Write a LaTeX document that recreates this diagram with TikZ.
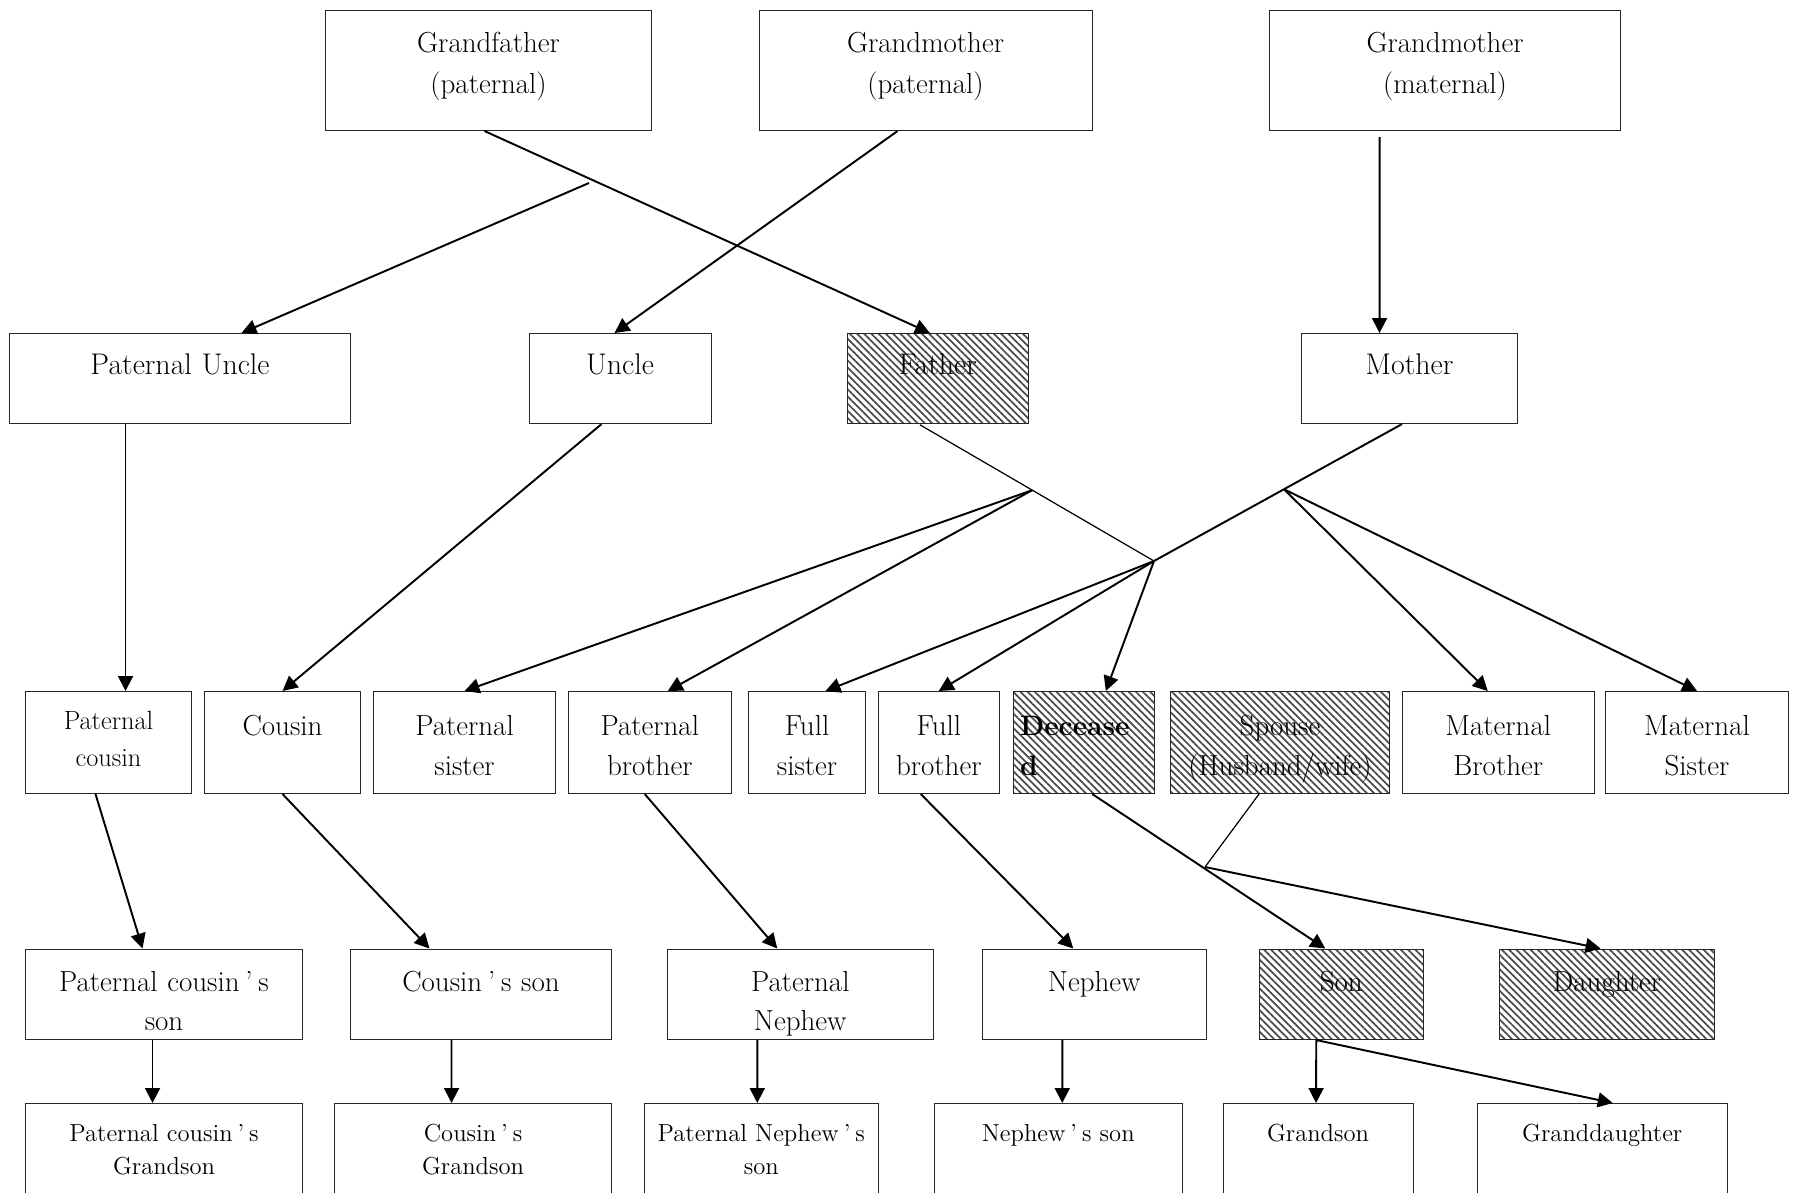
\documentclass[tikz,border=0pt]{standalone}
\usetikzlibrary{arrows.meta,calc,patterns.meta}

\newcommand{\apos}{\kern0.2em’\kern0.2em}

\begin{document}
\begin{tikzpicture}[
  >={Triangle[length=8.5pt,width=8.5pt]},
  kin/.style={draw=black!85, line width=0.6pt, inner sep=0pt, anchor=north west, align=center},
  gone/.style={kin, pattern={Lines[angle=-45,distance=2.9pt,line width=1pt]}, pattern color=black!70},
  gen1/.style={text height=0.83cm, text depth=1.57cm, font=\fontsize{16.5}{23.4}\selectfont},
  gen2/.style={text height=0.82cm, text depth=0.98cm, font=\fontsize{17}{23.4}\selectfont},
  gen3/.style={text height=0.87cm, text depth=1.17cm, font=\fontsize{16.5}{23.2}\selectfont},
  gen4/.style={text height=0.85cm, text depth=0.96cm, font=\fontsize{16.5}{22.2}\selectfont},
  gen5/.style={text height=0.76cm, text depth=1.30cm, font=\fontsize{14}{18.8}\selectfont},
  link/.style={->, line width=1.1pt},
  tie/.style={line width=0.7pt},
]
\useasboundingbox (0,0) rectangle (35.88,-23.84);
\clip (0,0) rectangle (35.88,-23.84);

\node[kin, gen1, text width=6.52cm] (gf) at (6.50,-0.20) {Grandfather\\(paternal)};
\node[kin, gen1, text width=6.66cm] (gmp) at (15.17,-0.20) {Grandmother\\(paternal)};
\node[kin, gen1, text width=7.02cm] (gmm) at (25.38,-0.20) {Grandmother\\(maternal)};

\node[kin, gen2, text width=6.82cm] (pu) at (0.18,-6.66) {Paternal Uncle};
\node[kin, gen2, text width=3.64cm] (un) at (10.57,-6.66) {Uncle};
\node[gone, gen2, text width=3.62cm] (fa) at (16.93,-6.66) {Father};
\node[kin, gen2, text width=4.32cm] (mo) at (26.02,-6.66) {Mother};

\node[kin, gen3, text width=3.32cm, text height=0.76cm, text depth=1.28cm,
  font=\fontsize{15}{21.3}\selectfont] (pc) at (0.50,-13.82) {Paternal\\cousin};
\node[kin, gen3, text width=3.12cm] (co) at (4.08,-13.82) {Cousin};
\node[kin, gen3, text width=3.64cm] (ps) at (7.46,-13.82) {Paternal\\sister};
\node[kin, gen3, text width=3.27cm] (pb) at (11.35,-13.82) {Paternal\\brother};
\node[kin, gen3, text width=2.34cm] (fs) at (14.96,-13.82) {Full\\sister};
\node[kin, gen3, text width=2.43cm] (fb) at (17.55,-13.82) {Full\\brother};
\node[gone, gen3, text width=2.55cm, inner xsep=0.14cm, align=left,
  font=\fontsize{16}{23.2}\selectfont\bfseries] (de) at (20.25,-13.82) {Decease\\d};
\node[gone, gen3, text width=4.38cm] (sp) at (23.40,-13.82) {Spouse\\(Husband/wife)};
\node[kin, gen3, text width=3.85cm] (mb) at (28.03,-13.82) {Maternal\\Brother};
\node[kin, gen3, text width=3.66cm] (ms) at (32.10,-13.82) {Maternal\\Sister};

\node[kin, gen4, text width=5.54cm] (pcs) at (0.50,-18.97) {Paternal cousin\apos s\\son};
\node[kin, gen4, text width=5.22cm] (cs) at (7.00,-18.97) {Cousin\apos s son};
\node[kin, gen4, text width=5.31cm] (pn) at (13.34,-18.97) {Paternal\\Nephew};
\node[kin, gen4, text width=4.49cm] (ne) at (19.63,-18.97) {Nephew};
\node[gone, gen4, text width=3.29cm] (so) at (25.17,-18.97) {Son};
\node[gone, gen4, text width=4.30cm] (da) at (29.98,-18.97) {Daughter};

\node[kin, gen5, text width=5.54cm] (pcg) at (0.50,-22.06) {Paternal cousin\apos s\\Grandson};
\node[kin, gen5, text width=5.54cm] (cg) at (6.68,-22.06) {Cousin\apos s\\Grandson};
\node[kin, gen5, text width=4.67cm] (pns) at (12.88,-22.06) {Paternal Nephew\apos s\\son};
\node[kin, gen5, text width=4.97cm] (nes) at (18.67,-22.06) {Nephew\apos s son};
\node[kin, gen5, text width=3.80cm] (gs) at (24.45,-22.06) {Grandson};
\node[kin, gen5, text width=4.99cm] (gd) at (29.54,-22.06) {Granddaughter};

% grandparents to parents
\coordinate (jgf) at (11.78,-3.66);
\draw[link] ([xshift=-0.08cm]gf.south) -- ([xshift=-0.16cm]fa.north);
\draw[link] (jgf) -- ([xshift=1.23cm]pu.north);
\draw[link] ([xshift=-0.56cm]gmp.south) -- ([xshift=-0.11cm]un.north);
\draw[link] ([xshift=-1.31cm,yshift=-0.12cm]gmm.south) -- ([xshift=-0.6cm]mo.north);

% parents to siblings
\coordinate (jfull) at (23.08,-11.22);
\draw[tie] ([xshift=-0.36cm]fa.south) -- (jfull);
\coordinate (jpat) at ($([xshift=-0.36cm]fa.south)!0.48!(jfull)$);
\draw[line width=1.1pt] ([xshift=-0.15cm]mo.south) -- (jfull);
\coordinate (jmat) at ($([xshift=-0.15cm]mo.south)!0.476!(jfull)$);
\draw[link] ([xshift=-1.09cm]pu.south) -- ([xshift=0.34cm]pc.north);
\draw[link] ([xshift=-0.37cm]un.south) -- (co.north);
\draw[link] (jpat) -- (ps.north);
\draw[link] (jpat) -- ([xshift=0.36cm]pb.north);
\draw[link] (jfull) -- ([xshift=0.37cm]fs.north);
\draw[link] (jfull) -- (fb.north);
\draw[link] (jfull) -- ([xshift=0.44cm]de.north);
\draw[link] (jmat) -- ([xshift=-0.21cm]mb.north);
\draw[link] (jmat) -- (ms.north);

% children
\draw[link] ([xshift=-0.26cm]pc.south) -- ([xshift=-0.43cm]pcs.north);
\draw[link] (co.south) -- ([xshift=-1.03cm]cs.north);
\draw[link] ([xshift=-0.1cm]pb.south) -- ([xshift=-0.46cm]pn.north);
\draw[link] ([xshift=-0.36cm]fb.south) -- ([xshift=-0.42cm]ne.north);
\draw[link] ([xshift=0.17cm]de.south) -- ([xshift=-0.32cm]so.north);
\coordinate (jsp) at (24.1,-17.34);
\draw[tie] ([xshift=-0.42cm]sp.south) -- (jsp);
\draw[link] (jsp) -- ([xshift=-0.13cm]da.north);

% grandchildren
\draw[link] ([xshift=-0.23cm]pcs.south) -- ([xshift=-0.23cm]pcg.north);
\draw[link] ([xshift=-0.59cm]cs.south) -- ([xshift=-0.43cm]cg.north);
\draw[link] ([xshift=-0.86cm]pn.south) -- ([xshift=-0.08cm]pns.north);
\draw[link] ([xshift=-0.64cm]ne.south) -- ([xshift=0.08cm]nes.north);
\draw[link] ([xshift=-0.5cm]so.south) -- ([xshift=-0.04cm]gs.north);
\draw[link] ([xshift=-0.5cm]so.south) -- ([xshift=0.21cm]gd.north);
\end{tikzpicture}
\end{document}
